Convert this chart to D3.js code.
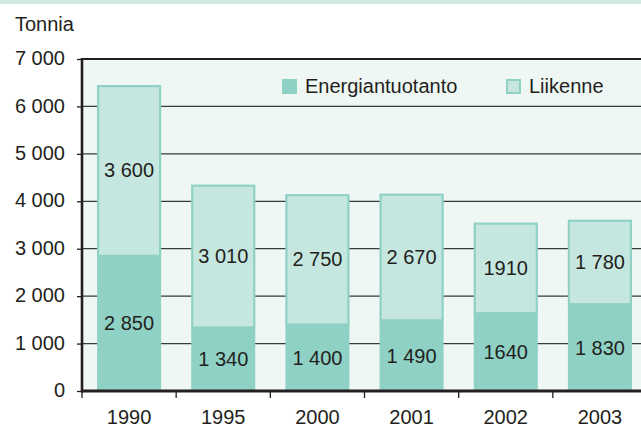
<!DOCTYPE html>
<html><head><meta charset="utf-8">
<script src="https://cdn.jsdelivr.net/npm/d3@7"></script>
<style>body{margin:0;background:#fff;}svg{display:block;font-family:"Liberation Sans",Arial,sans-serif;}</style>
</head><body><svg id="c" width="641" height="428"></svg>
<script>
const categories = ["1990","1995","2000","2001","2002","2003"];
const energia = [2850,1340,1400,1490,1640,1830];
const liikenne = [3600,3010,2750,2670,1910,1780];
const energiaLabels = ["2 850","1 340","1 400","1 490","1640","1 830"];
const liikenneLabels = ["3 600","3 010","2 750","2 670","1910","1 780"];
const yTicks = [0,1000,2000,3000,4000,5000,6000,7000];
const seriesNames = ["Energiantuotanto","Liikenne"];

(function(){
const svg = d3.select("#c");
const pL = 82, pR = 647, pT = 59, pB = 391;
const darkC = "#8fd1c4", lightC = "#c6e7df", txt = "#231f20";
const fs = 20;

svg.append("rect").attr("x",0).attr("y",0).attr("width",641).attr("height",4).attr("fill","#cfe9df");
svg.append("text").attr("x",15).attr("y",31).attr("font-size",fs).attr("fill",txt).text("Tonnia");

const x = d3.scaleBand().domain(categories).range([pL,pR]).paddingInner(0.32).paddingOuter(0.16);
const xb = d3.scaleBand().domain(categories).range([pL,pR]);
const y = d3.scaleLinear().domain([0,7000]).range([pB,pT]);

svg.append("rect").attr("x",pL).attr("y",pT).attr("width",pR-pL).attr("height",pB-pT).attr("fill","#eef7f4");

svg.append("g").selectAll("line").data(yTicks.filter(d=>d>0&&d<7000)).join("line")
  .attr("x1",pL).attr("x2",pR).attr("y1",d=>y(d)).attr("y2",d=>y(d))
  .attr("stroke","#3a3a3a").attr("stroke-width",1.3);

const g = svg.append("g");
categories.forEach((c,i)=>{
  const e = energia[i], l = liikenne[i];
  g.append("rect").attr("x",x(c)).attr("width",x.bandwidth())
    .attr("y",y(e)).attr("height",y(0)-y(e)).attr("fill",darkC);
  g.append("rect").attr("x",x(c)+1).attr("width",x.bandwidth()-2)
    .attr("y",y(e+l)+1).attr("height",y(e)-y(e+l)-1).attr("fill",lightC)
    .attr("stroke",darkC).attr("stroke-width",2.2);
  g.append("text").attr("x",x(c)+x.bandwidth()/2).attr("y",(y(0)+y(e))/2).attr("dy","0.35em")
    .attr("text-anchor","middle").attr("font-size",fs).attr("fill",txt).text(energiaLabels[i]);
  g.append("text").attr("x",x(c)+x.bandwidth()/2).attr("y",(y(e)+y(e+l))/2).attr("dy","0.35em")
    .attr("text-anchor","middle").attr("font-size",fs).attr("fill",txt).text(liikenneLabels[i]);
});

svg.append("line").attr("x1",pL).attr("x2",pR).attr("y1",pT).attr("y2",pT).attr("stroke","#231f20").attr("stroke-width",2);

const ya = svg.append("g").attr("transform",`translate(${pL},0)`)
  .call(d3.axisLeft(y).tickValues(yTicks).tickSize(5).tickPadding(12)
    .tickFormat(d=>d3.format(",")(d).replace(/,/g," ")));
ya.select(".domain").remove();
ya.selectAll("text").attr("font-size",fs).attr("fill",txt).attr("dy","0.28em").style("font-family","Liberation Sans, Arial, sans-serif");
ya.selectAll("line").attr("stroke",txt).attr("stroke-width",1.3);
svg.append("line").attr("x1",pL).attr("x2",pL).attr("y1",pT-1).attr("y2",pB+1.5).attr("stroke","#231f20").attr("stroke-width",2.6);

const xa = svg.append("g").attr("transform",`translate(0,${pB})`)
  .call(d3.axisBottom(x).tickSize(0).tickPadding(19));
xa.select(".domain").remove();
xa.selectAll("text").attr("font-size",fs).attr("fill",txt).style("font-family","Liberation Sans, Arial, sans-serif");
svg.append("g").selectAll("line").data(categories).join("line")
  .attr("x1",d=>xb(d)).attr("x2",d=>xb(d)).attr("y1",pB).attr("y2",pB+7)
  .attr("stroke",txt).attr("stroke-width",1.3);
svg.append("line").attr("x1",pL-1).attr("x2",pR).attr("y1",pB).attr("y2",pB).attr("stroke","#231f20").attr("stroke-width",3);

const legX = [282,506];
seriesNames.forEach((n,i)=>{
  if(i===0){
    svg.append("rect").attr("x",legX[i]).attr("y",79).attr("width",15).attr("height",15).attr("fill",darkC);
  } else {
    svg.append("rect").attr("x",legX[i]+1).attr("y",80).attr("width",13).attr("height",13).attr("fill",lightC).attr("stroke",darkC).attr("stroke-width",2);
  }
  svg.append("text").attr("x",legX[i]+23).attr("y",93).attr("font-size",fs).attr("fill",txt).text(n);
});
})();
</script></body></html>
